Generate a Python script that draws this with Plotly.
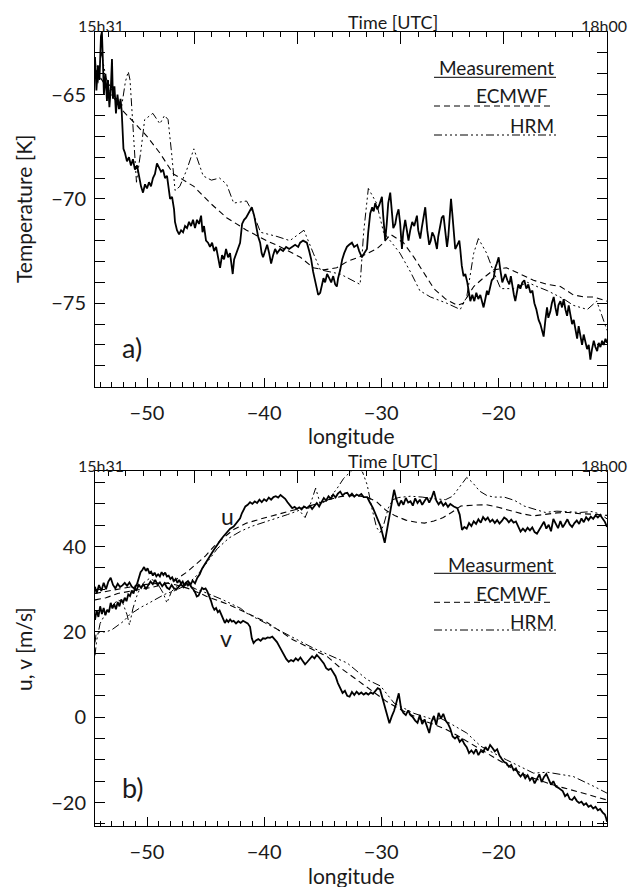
import plotly.graph_objects as go

# ---------------- data ----------------
# Panel a) temperature
T_meas_lon = [-54.44,-54.32,-54.19,-54.06,-53.93,-53.85,-53.76,-53.68,-53.55,-53.42,-53.33,-53.21,-53.08,-52.99,-52.91,-52.78,-52.65,-52.52,-52.39,-52.26,-52.16,-52.09,-52.01,-51.88,-51.71,-51.54,-51.37,-51.20,-51.03,-50.85,-50.68,-50.51,-50.34,-50.17,-50.00,-49.83,-49.66,-49.49,-49.32,-49.15,-48.97,-48.80,-48.63,-48.46,-48.29,-48.12,-48.03,-47.86,-47.69,-47.61,-47.44,-47.26,-47.09,-46.92,-46.75,-46.58,-46.41,-46.24,-46.07,-45.90,-45.73,-45.56,-45.38,-45.26,-45.13,-44.96,-44.79,-44.62,-44.44,-44.27,-44.10,-43.93,-43.76,-43.59,-43.42,-43.25,-43.08,-42.91,-42.68,-42.56,-42.39,-42.22,-42.05,-41.88,-41.71,-41.54,-41.37,-41.20,-41.05,-40.85,-40.68,-40.51,-40.34,-40.21,-40.09,-39.91,-39.74,-39.57,-39.40,-39.23,-39.06,-38.89,-38.63,-38.38,-38.12,-37.86,-37.61,-37.35,-37.09,-36.92,-36.67,-36.35,-36.15,-35.98,-35.81,-35.64,-35.50,-35.38,-35.21,-35.04,-34.93,-34.79,-34.62,-34.44,-34.27,-34.10,-33.93,-33.79,-33.68,-33.50,-33.33,-33.16,-32.93,-32.74,-32.50,-32.31,-32.05,-31.88,-31.65,-31.45,-31.22,-31.11,-30.94,-30.77,-30.64,-30.51,-30.34,-30.17,-29.94,-29.83,-29.66,-29.53,-29.40,-29.23,-29.10,-28.97,-28.80,-28.68,-28.52,-28.38,-28.23,-28.12,-27.95,-27.80,-27.67,-27.52,-27.35,-27.18,-26.95,-26.84,-26.67,-26.54,-26.41,-26.24,-26.07,-25.90,-25.77,-25.64,-25.47,-25.24,-25.13,-24.96,-24.83,-24.68,-24.53,-24.38,-24.27,-24.15,-24.04,-23.93,-23.80,-23.68,-23.50,-23.33,-23.25,-23.12,-22.97,-22.82,-22.65,-22.52,-22.39,-22.22,-22.05,-21.88,-21.71,-21.54,-21.41,-21.26,-21.11,-20.97,-20.85,-20.68,-20.56,-20.40,-20.26,-20.13,-19.97,-19.83,-19.66,-19.53,-19.40,-19.23,-19.06,-18.93,-18.80,-18.67,-18.55,-18.42,-18.29,-18.12,-17.95,-17.78,-17.61,-17.44,-17.26,-17.09,-16.92,-16.75,-16.56,-16.41,-16.28,-16.13,-15.98,-15.84,-15.73,-15.56,-15.43,-15.27,-15.13,-14.98,-14.87,-14.70,-14.56,-14.42,-14.27,-14.13,-13.99,-13.85,-13.70,-13.56,-13.42,-13.27,-13.14,-12.99,-12.85,-12.71,-12.56,-12.42,-12.28,-12.14,-12.00,-11.85,-11.71,-11.56,-11.43,-11.28,-11.14,-11.00,-10.85,-10.72]
T_meas = [-63.2,-64.8,-63.6,-64.3,-62.2,-62.0,-63.5,-65.0,-64.0,-65.3,-64.3,-65.6,-64.6,-63.3,-65.2,-64.6,-65.9,-65.0,-65.7,-65.2,-65.8,-67.0,-67.6,-67.8,-68.2,-68.0,-68.4,-68.1,-68.6,-68.4,-69.0,-69.4,-69.7,-69.3,-69.5,-69.2,-69.4,-69.0,-68.8,-68.3,-68.5,-68.7,-68.6,-69.0,-68.9,-69.5,-70.0,-69.9,-70.5,-71.1,-71.5,-71.7,-71.5,-71.6,-71.3,-71.4,-71.1,-71.3,-71.0,-71.4,-71.0,-71.2,-70.8,-71.6,-71.3,-72.0,-72.1,-72.3,-72.1,-72.5,-72.3,-72.8,-73.3,-72.7,-72.9,-72.4,-72.8,-72.6,-73.6,-72.9,-72.6,-72.4,-72.1,-71.2,-71.0,-70.9,-70.7,-70.5,-70.4,-70.8,-71.3,-71.8,-72.1,-72.6,-72.8,-72.5,-72.2,-72.6,-73.1,-72.7,-72.4,-72.6,-72.4,-72.5,-72.3,-72.4,-72.3,-72.2,-72.3,-72.1,-72.0,-72.1,-72.5,-72.9,-73.5,-74.0,-74.4,-74.6,-74.5,-74.1,-73.8,-74.0,-73.6,-73.8,-74.0,-73.7,-74.1,-74.2,-73.8,-73.4,-72.9,-72.6,-72.3,-72.2,-72.1,-72.3,-72.2,-72.5,-72.8,-72.6,-72.4,-71.6,-70.7,-70.4,-70.6,-70.2,-70.5,-70.3,-69.9,-70.8,-72.0,-71.2,-70.2,-69.7,-70.6,-71.4,-71.2,-70.8,-70.5,-71.2,-72.4,-71.6,-71.0,-71.6,-72.0,-71.5,-71.1,-71.3,-70.8,-71.5,-71.9,-71.4,-70.9,-70.4,-71.5,-72.2,-72.0,-71.6,-71.8,-72.4,-71.8,-71.3,-70.9,-70.8,-71.6,-72.3,-71.8,-70.6,-70.0,-70.7,-71.7,-72.4,-72.2,-72.0,-72.4,-73.2,-73.7,-73.6,-74.0,-74.5,-74.9,-74.6,-74.9,-74.5,-74.8,-74.6,-74.9,-75.2,-74.8,-74.4,-74.6,-74.2,-73.9,-73.8,-73.3,-73.1,-72.8,-73.4,-74.0,-73.8,-73.6,-73.9,-74.1,-73.7,-74.2,-74.6,-74.9,-74.4,-74.1,-74.3,-74.0,-73.9,-74.3,-74.1,-74.5,-74.4,-75.0,-75.3,-75.8,-76.0,-76.3,-76.6,-75.8,-75.2,-75.7,-75.4,-75.0,-74.7,-75.2,-75.6,-75.1,-74.9,-75.2,-74.8,-75.3,-75.6,-75.1,-75.5,-76.0,-75.8,-76.3,-76.7,-76.1,-76.5,-77.0,-76.5,-76.9,-77.2,-77.0,-77.7,-77.2,-76.8,-77.1,-77.3,-76.9,-77.1,-76.8,-77.0,-76.7,-76.9]

T_ecmwf_lon = [-54.44,-53.5,-52.2,-51.0,-50.0,-48.9,-47.75,-46.0,-44.6,-43.2,-41.5,-39.8,-38.6,-36.9,-35.8,-34.9,-33.8,-32.9,-31.5,-30.4,-29.8,-29.2,-28.1,-27.2,-26.4,-25.5,-24.5,-23.5,-23.0,-22.1,-21.3,-20.4,-19.3,-18.1,-17.0,-15.8,-14.7,-13.6,-12.7,-11.85,-10.72]
T_ecmwf = [-63.8,-64.6,-65.7,-66.4,-67.0,-67.8,-68.8,-69.4,-70.2,-70.9,-71.5,-72.0,-72.3,-72.8,-73.3,-73.4,-73.3,-73.0,-72.7,-72.4,-72.1,-71.7,-72.1,-72.8,-73.5,-74.3,-74.8,-75.1,-75.0,-74.2,-73.8,-73.4,-73.3,-73.6,-73.9,-74.1,-74.2,-74.6,-74.7,-74.7,-74.9]

T_hrm_lon = [-54.44,-54.2,-53.9,-53.5,-53.0,-52.5,-52.2,-52.0,-51.85,-51.6,-51.45,-51.2,-50.9,-50.5,-50.2,-49.5,-48.9,-48.5,-48.2,-47.9,-47.6,-47.2,-46.6,-46.0,-45.2,-44.5,-43.8,-43.2,-42.6,-41.5,-41.0,-40.3,-38.9,-37.8,-36.6,-35.8,-35.2,-33.5,-32.8,-31.8,-31.5,-31.1,-30.4,-29.8,-28.4,-27.5,-26.7,-25.8,-24.4,-23.25,-22.7,-22.1,-21.7,-21.0,-20.4,-19.8,-18.7,-17.5,-16.7,-15.8,-14.4,-13.6,-12.4,-11.6,-11.15,-10.72]
T_hrm = [-63.3,-64.5,-63.0,-64.2,-64.8,-65.3,-65.7,-65.0,-64.4,-63.9,-64.3,-66.5,-69.2,-67.6,-66.2,-65.9,-66.4,-66.0,-66.2,-67.8,-69.6,-69.4,-68.6,-67.6,-68.9,-69.1,-69.0,-69.3,-70.2,-70.1,-70.6,-71.6,-71.8,-72.0,-71.5,-72.6,-73.4,-73.6,-73.8,-74.1,-71.6,-69.5,-70.2,-71.6,-72.6,-73.5,-74.4,-74.7,-75.0,-75.3,-74.7,-72.6,-71.9,-72.6,-73.5,-74.3,-74.3,-74.0,-74.2,-74.4,-74.8,-75.1,-75.3,-74.9,-75.6,-76.3]

# Panel b) wind components
u_meas_lon = [-54.44,-54.3,-54.1,-53.9,-53.7,-53.5,-53.3,-53.1,-52.9,-52.7,-52.5,-52.3,-52.1,-51.9,-51.7,-51.5,-51.3,-51.1,-50.9,-50.7,-50.5,-50.3,-50.1,-49.9,-49.7,-49.5,-49.3,-49.1,-48.9,-48.7,-48.5,-48.3,-48.1,-47.9,-47.7,-47.5,-47.3,-47.1,-46.9,-46.7,-46.5,-46.3,-46.1,-45.9,-45.7,-45.5,-45.3,-45.1,-44.9,-44.7,-44.5,-44.3,-44.1,-43.9,-43.7,-43.5,-43.3,-43.1,-42.9,-42.6,-42.4,-42.2,-42.05,-41.9,-41.75,-41.6,-41.4,-41.2,-41.0,-40.8,-40.6,-40.4,-40.2,-40.0,-39.8,-39.6,-39.4,-39.2,-39.0,-38.8,-38.6,-38.4,-38.2,-38.0,-37.8,-37.6,-37.4,-37.2,-37.0,-36.8,-36.6,-36.35,-36.1,-35.9,-35.7,-35.5,-35.3,-35.1,-34.9,-34.7,-34.5,-34.3,-34.1,-33.9,-33.7,-33.5,-33.3,-33.1,-32.9,-32.7,-32.5,-32.3,-32.1,-31.9,-31.7,-31.5,-31.2,-31.0,-30.7,-30.4,-30.05,-29.7,-29.5,-29.3,-29.1,-28.9,-28.7,-28.5,-28.3,-28.1,-27.9,-27.7,-27.5,-27.3,-27.1,-26.9,-26.7,-26.5,-26.3,-26.1,-25.9,-25.7,-25.5,-25.3,-25.1,-24.9,-24.7,-24.5,-24.3,-24.1,-23.8,-23.5,-23.3,-23.1,-22.9,-22.7,-22.5,-22.3,-22.1,-21.9,-21.7,-21.5,-21.3,-21.1,-20.9,-20.7,-20.5,-20.3,-20.1,-19.9,-19.7,-19.5,-19.3,-19.1,-18.9,-18.7,-18.5,-18.3,-18.1,-17.9,-17.7,-17.5,-17.3,-17.1,-16.9,-16.7,-16.5,-16.3,-16.1,-15.9,-15.7,-15.5,-15.3,-15.1,-14.9,-14.7,-14.5,-14.3,-14.1,-13.9,-13.7,-13.5,-13.3,-13.1,-12.9,-12.7,-12.5,-12.3,-12.1,-11.9,-11.7,-11.5,-11.3,-11.1,-10.9,-10.72]
u_meas = [30.6,29.0,31.0,29.6,31.5,30.0,31.8,32.7,31.0,30.2,31.3,30.5,30.9,31.5,30.8,31.6,30.6,30.2,29.8,31.0,30.3,31.2,30.0,30.9,31.8,31.2,32.2,31.0,31.6,30.7,31.4,30.4,30.0,31.0,30.2,29.9,30.6,31.2,30.5,31.5,31.9,31.0,32.0,31.4,32.7,33.5,34.8,35.6,36.4,37.5,38.3,39.2,40.1,40.8,41.6,42.3,43.0,43.6,44.2,44.7,45.3,46.0,46.6,47.8,48.8,49.4,49.8,50.4,50.0,50.6,50.2,51.0,50.4,51.1,50.7,51.5,51.0,51.6,51.8,51.5,52.1,51.7,51.2,50.4,49.6,49.0,49.3,48.8,49.2,48.7,49.4,49.0,49.6,48.8,49.5,50.2,49.4,50.6,51.4,50.8,51.8,51.2,52.2,51.5,52.4,52.9,52.0,52.5,52.6,51.8,52.4,51.7,52.2,51.9,52.3,51.6,51.6,50.5,49.0,47.0,44.7,40.9,44.0,46.4,50.5,53.3,51.0,49.5,50.8,49.8,51.4,50.3,50.6,49.6,51.3,50.2,51.0,49.8,50.7,51.5,50.3,51.4,53.0,50.8,49.9,50.6,49.6,50.2,49.3,50.0,49.4,49.0,47.5,43.9,44.6,44.2,45.5,44.8,45.9,45.3,46.4,45.6,46.9,46.2,46.8,45.8,46.3,45.5,46.2,45.4,46.0,46.8,46.4,45.7,46.3,45.6,45.9,44.6,43.5,44.2,43.6,44.4,43.8,44.5,43.4,43.0,43.9,44.6,45.8,44.2,45.1,43.6,46.5,45.4,44.3,46.0,44.5,45.4,46.4,45.2,44.6,45.5,46.1,45.3,46.6,45.7,46.9,46.2,47.0,46.5,47.3,46.8,47.4,46.6,45.8,44.6]

u_ecmwf_lon = [-54.44,-53.5,-52.5,-51.5,-50.5,-49.5,-48.5,-47.5,-46.6,-45.8,-45.0,-44.3,-43.5,-42.6,-41.5,-40.0,-38.5,-37.5,-36.5,-35.5,-34.5,-33.5,-32.5,-31.2,-30.4,-29.6,-28.8,-27.9,-27.0,-26.3,-25.5,-24.7,-24.0,-23.2,-22.2,-21.0,-20.0,-19.0,-18.0,-17.0,-16.0,-15.0,-14.0,-13.0,-12.0,-10.72]
u_ecmwf = [27.5,28.0,29.0,29.5,30.0,30.5,31.2,32.3,34.0,35.8,37.8,40.0,42.0,44.0,45.5,46.7,47.8,48.6,49.3,50.0,51.0,51.7,52.0,51.6,50.5,48.5,47.2,46.2,45.7,45.5,46.0,46.8,48.0,49.5,49.7,49.8,49.2,48.5,47.7,47.2,47.6,47.9,48.0,47.7,47.6,47.3]

u_hrm_lon = [-54.44,-54.35,-54.0,-53.5,-53.0,-52.5,-52.0,-51.5,-51.0,-50.5,-50.0,-49.5,-49.0,-48.5,-48.0,-47.5,-47.0,-46.5,-46.0,-45.5,-45.0,-44.5,-44.0,-43.0,-42.0,-41.0,-40.0,-39.0,-38.0,-37.0,-36.5,-36.1,-35.6,-35.2,-34.5,-33.8,-33.2,-32.6,-32.0,-31.6,-31.2,-30.8,-30.4,-30.1,-29.8,-29.4,-29.0,-28.5,-27.5,-26.5,-25.5,-24.5,-23.9,-23.3,-22.7,-22.2,-21.6,-21.0,-20.4,-19.5,-18.6,-17.8,-17.0,-16.0,-15.0,-14.0,-13.0,-12.0,-11.3,-10.72]
u_hrm = [17.5,19.5,20.0,20.0,20.5,21.5,22.5,24.0,25.0,25.8,26.5,27.3,28.2,28.8,29.3,29.8,30.5,31.5,32.5,34.0,35.8,37.8,39.5,42.0,43.6,44.8,45.7,46.5,47.5,48.5,46.8,49.5,53.7,50.0,51.0,53.5,56.0,57.6,58.5,57.5,54.5,49.0,44.5,43.3,45.0,49.0,51.0,51.5,51.8,51.6,51.2,51.0,51.8,54.0,56.2,55.0,53.0,52.0,51.6,51.6,50.8,49.5,48.8,48.0,48.3,48.2,48.0,48.2,47.6,46.5]

v_meas_lon = [-54.44,-54.3,-54.15,-54.0,-53.85,-53.7,-53.55,-53.4,-53.25,-53.1,-52.95,-52.8,-52.65,-52.5,-52.35,-52.2,-52.05,-51.9,-51.75,-51.6,-51.45,-51.3,-51.15,-51.0,-50.85,-50.7,-50.55,-50.4,-50.25,-50.1,-49.95,-49.8,-49.65,-49.5,-49.35,-49.2,-49.05,-48.9,-48.75,-48.6,-48.45,-48.3,-48.15,-48.0,-47.85,-47.7,-47.55,-47.4,-47.25,-47.1,-46.95,-46.8,-46.65,-46.5,-46.35,-46.2,-46.05,-45.9,-45.75,-45.6,-45.45,-45.3,-45.15,-45.0,-44.85,-44.7,-44.55,-44.4,-44.25,-44.1,-43.95,-43.8,-43.65,-43.5,-43.35,-43.2,-43.05,-42.9,-42.75,-42.6,-42.4,-42.2,-42.0,-41.8,-41.6,-41.4,-41.2,-41.05,-40.9,-40.7,-40.5,-40.3,-40.1,-39.9,-39.7,-39.5,-39.3,-39.1,-38.9,-38.7,-38.5,-38.3,-38.1,-37.9,-37.7,-37.5,-37.3,-37.1,-36.9,-36.7,-36.5,-36.3,-36.1,-35.9,-35.7,-35.5,-35.3,-35.1,-34.9,-34.7,-34.5,-34.3,-34.1,-33.9,-33.7,-33.5,-33.3,-33.1,-32.9,-32.7,-32.5,-32.3,-32.1,-31.9,-31.7,-31.5,-31.3,-31.1,-30.9,-30.7,-30.5,-30.3,-30.1,-29.9,-29.7,-29.5,-29.3,-29.1,-28.9,-28.7,-28.5,-28.3,-28.1,-27.9,-27.7,-27.5,-27.3,-27.1,-26.9,-26.7,-26.5,-26.3,-26.1,-25.9,-25.7,-25.5,-25.3,-25.1,-24.9,-24.7,-24.5,-24.3,-24.1,-23.9,-23.7,-23.5,-23.3,-23.1,-22.9,-22.7,-22.5,-22.3,-22.1,-21.9,-21.7,-21.5,-21.3,-21.1,-20.9,-20.7,-20.5,-20.3,-20.1,-19.9,-19.7,-19.5,-19.3,-19.1,-18.9,-18.7,-18.5,-18.3,-18.1,-17.9,-17.7,-17.5,-17.3,-17.1,-16.9,-16.7,-16.5,-16.3,-16.1,-15.9,-15.7,-15.5,-15.3,-15.1,-14.9,-14.7,-14.5,-14.3,-14.1,-13.9,-13.7,-13.5,-13.3,-13.1,-12.9,-12.7,-12.5,-12.3,-12.1,-11.9,-11.7,-11.5,-11.3,-11.1,-10.9,-10.8,-10.72]
v_meas = [22.8,25.1,23.5,26.0,24.2,25.6,23.9,25.2,24.6,26.8,25.5,26.5,25.3,27.0,26.0,27.6,26.8,28.0,27.2,28.8,28.4,29.7,29.0,30.6,31.2,32.5,34.0,34.5,35.2,34.3,34.9,33.8,34.1,33.2,33.9,33.0,33.5,33.0,34.0,33.3,33.9,33.0,33.2,32.4,32.8,31.9,32.4,31.5,32.2,31.3,31.8,30.8,31.6,30.9,31.4,30.4,30.0,29.3,28.3,28.5,29.6,30.3,30.0,30.2,29.5,28.5,27.4,26.0,25.2,25.6,24.6,25.0,24.0,22.8,22.1,22.8,22.3,22.9,22.4,22.6,22.0,22.5,22.1,22.6,22.3,22.0,21.2,18.5,17.4,18.0,18.3,17.9,18.5,18.4,18.7,18.6,18.9,18.3,17.6,16.6,15.5,14.5,13.6,13.0,13.4,13.1,13.8,13.3,14.0,13.2,12.4,13.0,13.8,14.3,13.8,14.6,14.0,13.3,12.6,11.5,11.1,11.4,10.5,9.6,8.0,6.7,5.7,6.2,5.0,4.8,5.9,5.2,6.0,5.4,5.8,5.3,5.7,5.3,5.8,5.5,6.2,6.8,6.5,4.5,3.0,0.5,-1.4,0.2,1.5,3.5,5.6,2.0,1.0,0.5,1.6,0.5,0.0,-0.8,-1.3,0.5,-1.6,-0.5,-2.3,-3.7,-1.0,0.3,-1.8,1.0,-0.3,0.8,-0.8,-1.5,-2.7,-4.5,-5.0,-4.5,-5.8,-5.2,-6.3,-7.0,-8.4,-7.8,-8.5,-7.5,-8.9,-7.9,-8.2,-7.0,-7.8,-6.5,-7.2,-8.0,-7.5,-9.0,-9.8,-10.5,-10.8,-11.6,-11.2,-12.4,-12.0,-13.2,-13.9,-13.2,-14.3,-13.6,-14.8,-14.1,-15.5,-14.6,-13.4,-15.2,-14.0,-13.3,-14.6,-15.8,-15.0,-16.2,-16.5,-17.0,-17.3,-18.5,-18.0,-19.2,-19.4,-18.7,-19.6,-20.1,-19.8,-20.6,-20.2,-21.0,-20.7,-21.4,-21.0,-21.8,-21.5,-22.3,-22.8,-23.6,-24.5]

v_ecmwf_lon = [-54.44,-53.5,-52.5,-51.5,-50.5,-49.5,-48.5,-47.5,-46.5,-45.6,-44.9,-43.2,-41.5,-39.8,-37.5,-34.6,-33.5,-32.5,-31.5,-30.5,-29.5,-28.5,-27.5,-26.5,-25.5,-24.5,-23.5,-22.5,-21.5,-20.5,-19.5,-18.5,-17.5,-16.5,-15.5,-14.5,-13.5,-12.5,-11.5,-10.72]
v_ecmwf = [29.0,29.5,30.0,30.5,31.0,31.3,31.5,31.0,30.2,29.2,28.3,26.6,24.4,22.3,18.1,14.2,11.6,9.6,7.4,5.5,3.6,2.0,0.6,-0.7,-1.7,-2.8,-4.3,-6.0,-7.7,-9.2,-10.8,-12.5,-13.8,-14.8,-15.7,-16.5,-17.2,-18.0,-18.8,-19.4]

v_hrm_lon = [-54.44,-54.3,-54.0,-53.5,-53.0,-52.5,-52.1,-51.7,-51.5,-51.2,-50.8,-50.3,-49.8,-49.2,-48.6,-48.3,-47.9,-47.3,-46.5,-45.8,-44.9,-43.5,-42.0,-41.5,-39.5,-38.8,-35.8,-32.9,-31.2,-30.05,-28.9,-27.2,-25.5,-24.9,-24.4,-22.7,-21.5,-19.3,-17.0,-15.8,-15.3,-13.6,-11.85,-10.72]
v_hrm = [14.5,18.0,22.0,24.5,26.0,27.5,27.0,24.0,21.6,25.5,29.0,31.5,32.5,31.8,29.0,26.8,29.5,31.0,31.0,30.0,29.1,27.5,25.5,24.4,21.5,20.5,16.2,12.7,8.8,7.3,3.3,0.9,-0.6,-0.3,-1.0,-3.7,-6.8,-10.0,-13.1,-12.9,-13.1,-13.9,-16.2,-17.8]

# axis ticks and labels
lon_range = [-54.44, -10.72]
T_range = [-79.0, -62.0]
uv_range = [-25.5, 57.6]
time_range_min = [931, 1080]             # 15h31 .. 18h00 in minutes of day
time_major_min = [960, 990, 1020, 1050, 1080]
time_start_label = "15h31"
time_end_label = "18h00"
legend_top = ["Measurement", "ECMWF", "HRM"]
legend_bot = ["Measurment", "ECMWF", "HRM"]

# ---------------- styling ----------------
FONT = "Lato"
WEIGHT = 400
INK = "black"
TXT = "#1a1a1a"
HRM_DASH = "8px,3px,2px,3px,2px,3px,2px,3px"
ECM_DASH = "6px,4px"

fig = go.Figure()

def add(x, y, xa, ya, width, dash):
    fig.add_trace(go.Scatter(x=x, y=y, xaxis=xa, yaxis=ya, mode="lines",
                             line=dict(color=INK, width=width, dash=dash),
                             showlegend=False, hoverinfo="skip"))

add(T_ecmwf_lon, T_ecmwf, "x", "y", 1.1, ECM_DASH)
add(T_hrm_lon, T_hrm, "x", "y", 1.0, HRM_DASH)
add(T_meas_lon, T_meas, "x", "y", 1.8, "solid")

add(u_ecmwf_lon, u_ecmwf, "x2", "y2", 1.1, ECM_DASH)
add(v_ecmwf_lon, v_ecmwf, "x2", "y2", 1.1, ECM_DASH)
add(u_hrm_lon, u_hrm, "x2", "y2", 1.0, HRM_DASH)
add(v_hrm_lon, v_hrm, "x2", "y2", 1.0, HRM_DASH)
add(u_meas_lon, u_meas, "x2", "y2", 1.8, "solid")
add(v_meas_lon, v_meas, "x2", "y2", 1.8, "solid")

# empty traces so the top time axes exist
fig.add_trace(go.Scatter(x=time_range_min, y=[None, None], xaxis="x3", yaxis="y",
                         mode="lines", showlegend=False, hoverinfo="skip"))
fig.add_trace(go.Scatter(x=time_range_min, y=[None, None], xaxis="x4", yaxis="y2",
                         mode="lines", showlegend=False, hoverinfo="skip"))

tickfont = dict(family=FONT, size=20, color=TXT, weight=WEIGHT)

def xax(domain_anchor):
    return dict(range=lon_range, anchor=domain_anchor, showgrid=False, zeroline=False,
                showline=True, linecolor=INK, linewidth=1, mirror=True,
                ticks="inside", ticklen=9, tickwidth=1, tickcolor=INK,
                tick0=0, dtick=10, tickfont=tickfont, ticklabelstandoff=8,
                minor=dict(ticks="inside", ticklen=5, tickwidth=1, tickcolor=INK, dtick=1, tick0=0,
                           showgrid=False))

def yax(rng, dt, mdt, dom):
    return dict(range=rng, domain=dom, showgrid=False, zeroline=False,
                showline=True, linecolor=INK, linewidth=1, mirror="allticks",
                ticks="inside", ticklen=10, tickwidth=1, tickcolor=INK,
                tick0=0, dtick=dt, tickfont=tickfont, ticklabelstandoff=4,
                minor=dict(ticks="inside", ticklen=6, tickwidth=1, tickcolor=INK, dtick=mdt, tick0=0,
                           showgrid=False))

def tax(over, anchor):
    return dict(range=time_range_min, overlaying=over, anchor=anchor, side="top",
                showgrid=False, zeroline=False, showline=False, showticklabels=False,
                tickmode="array", tickvals=time_major_min,
                ticks="inside", ticklen=12, tickwidth=1, tickcolor=INK,
                minor=dict(tickmode="linear", tick0=930, dtick=5, ticks="inside",
                           ticklen=5, tickwidth=1, tickcolor=INK, showgrid=False))

top_dom = [0.5533, 1.0]
bot_dom = [0.0, 0.4465]

fig.update_layout(
    width=632, height=887,
    margin=dict(l=95, r=25, t=32, b=61),
    paper_bgcolor="white", plot_bgcolor="white",
    showlegend=False,
    xaxis=xax("y"), xaxis2=xax("y2"),
    yaxis=yax(T_range, 5, 1, top_dom),
    yaxis2=yax(uv_range, 20, 5, bot_dom),
    xaxis3=tax("x", "y"), xaxis4=tax("x2", "y2"),
    font=dict(family=FONT, color=TXT),
)

# ---------------- text ----------------
W = 632 - 95 - 25
H = 887 - 32 - 61
def px(xp):   # pixel x -> paper
    return (xp - 95) / W
def py(yp):   # pixel y -> paper
    return (887 - 61 - yp) / H

def txt(x, y, s, size, xanchor="center", yanchor="middle", angle=0, xref="paper", yref="paper"):
    fig.add_annotation(x=x, y=y, xref=xref, yref=yref, text=s, showarrow=False,
                       xanchor=xanchor, yanchor=yanchor, textangle=angle,
                       font=dict(family=FONT, size=size, color=TXT, weight=WEIGHT))

for top_px, lab_px, title_px in [(32, 435, 21.7), (471.5, 875, 461.2)]:
    txt(px(101), py(top_px - 6), time_start_label, 16)
    txt(px(604), py(top_px - 6), time_end_label, 16)
    txt(px(393), py(title_px), "Time [UTC]", 18)
    txt(px(351), py(lab_px), "longitude", 21)

txt(px(23), py(209), "Temperature [K]", 21, angle=-90)
txt(px(23), py(649), "u, v [m/s]", 21, angle=-90)

txt(-51.28, -77.12, "a)", 27, xref="x", yref="y")
txt(-51.2, -16.55, "b)", 27, xref="x2", yref="y2")
txt(-43.1, 47.2, "u", 23, xref="x2", yref="y2")
txt(-43.25, 18.6, "v", 23, xref="x2", yref="y2")

# legends (line samples under right-aligned labels)
def legend(rows, line_y, text_y, ends):
    dashes = ["solid", ECM_DASH, HRM_DASH]
    for lab, ly, ty, xe, d in zip(rows, line_y, text_y, ends, dashes):
        fig.add_shape(type="line", xref="paper", yref="paper",
                      x0=px(434), x1=px(xe), y0=py(ly), y1=py(ly),
                      line=dict(color=INK, width=1, dash=d))
        txt(px(xe), py(ty), lab, 19, xanchor="right")

legend(legend_top, [77.3, 106, 135], [68, 96, 125], [556, 550, 556])
legend(legend_bot, [573.3, 602.3, 630], [564, 593, 621], [556, 550, 556])

fig.write_html("out.html", config={"displayModeBar": False},
               post_script="document.body.style.margin='0px';document.body.style.overflow='hidden';")
